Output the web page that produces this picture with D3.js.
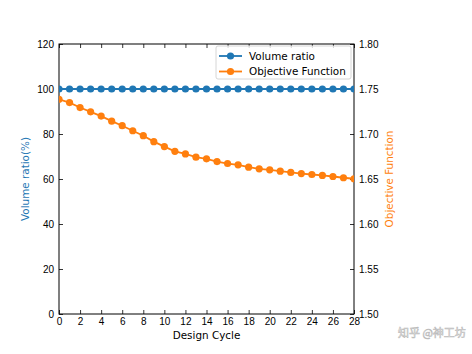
<!DOCTYPE html>
<html>
<head>
<meta charset="utf-8">
<script src="https://cdn.jsdelivr.net/npm/d3@7"></script>
<style>
  body { margin: 0; background: #fff; }
  svg { font-family: "DejaVu Sans", sans-serif; }
  .tick text { font-size: 10px; fill: #000; }
</style>
</head>
<body>
<svg id="chart" width="472" height="354"></svg>
<script>
// values
const cycles = d3.range(0, 29)
const volumeRatio = [100, 100, 100, 100, 100, 100, 100, 100, 100, 100,
    100, 100, 100, 100, 100, 100, 100, 100, 100, 100,
    100, 100, 100, 100, 100, 100, 100, 100, 100]
const objective = [1.7386, 1.7349, 1.7294, 1.7246, 1.7199, 1.7143, 1.7092, 1.7036, 1.6981, 1.6915,
    1.6860, 1.6808, 1.6779, 1.6742, 1.6724, 1.6694, 1.6672, 1.6658, 1.6631, 1.6613,
    1.6602, 1.6587, 1.6573, 1.6560, 1.6550, 1.6540, 1.6528, 1.6514, 1.6503]
const xTicks = d3.range(0, 29, 2)
const leftTicks = [0, 20, 40, 60, 80, 100, 120]
const rightTicks = [1.50, 1.55, 1.60, 1.65, 1.70, 1.75, 1.80]

const blue = '#1f77b4'
const orange = '#ff7f0e'

const margin = { top: 44, right: 118, bottom: 40, left: 59 }
const width = 472 - margin.left - margin.right
const height = 354 - margin.top - margin.bottom

const svg = d3.select('#chart')
const g = svg.append('g')
    .attr('transform', 'translate(' + margin.left + ',' + margin.top + ')')

const x = d3.scaleLinear().domain([0, 28]).range([0, width])
const yLeft = d3.scaleLinear().domain([0, 120]).range([height, 0])
const yRight = d3.scaleLinear().domain([1.5, 1.8]).range([height, 0])

svg.append('defs').append('clipPath').attr('id', 'plotClip')
    .append('rect').attr('width', width).attr('height', height)

// axes, ticks pointing inward on all four sides
function styleAxis(sel) {
    sel.select('.domain').remove()
    sel.selectAll('.tick line').attr('stroke', '#000').attr('stroke-width', 0.8)
}
g.append('g').attr('transform', 'translate(0,' + height + ')')
    .call(d3.axisBottom(x).tickValues(xTicks).tickSizeInner(-4).tickPadding(4))
    .call(styleAxis)
g.append('g')
    .call(d3.axisTop(x).tickValues(xTicks).tickSizeInner(-4).tickFormat(''))
    .call(styleAxis)
g.append('g')
    .call(d3.axisLeft(yLeft).tickValues(leftTicks).tickSizeInner(-4).tickPadding(5))
    .call(styleAxis)
g.append('g').attr('transform', 'translate(' + width + ',0)')
    .call(d3.axisRight(yRight).tickValues(rightTicks).tickSizeInner(-4).tickPadding(5)
        .tickFormat(d3.format('.2f')))
    .call(styleAxis)

// frame
g.append('rect')
    .attr('width', width).attr('height', height)
    .attr('fill', 'none').attr('stroke', '#000').attr('stroke-width', 1)

// series, clipped to the axes like matplotlib
const plot = g.append('g').attr('clip-path', 'url(#plotClip)')
function drawSeries(values, yScale, color) {
    const line = d3.line()
        .x((d, i) => x(cycles[i]))
        .y(d => yScale(d))
    plot.append('path')
        .datum(values)
        .attr('d', line)
        .attr('fill', 'none')
        .attr('stroke', color)
        .attr('stroke-width', 1.8)
    plot.selectAll(null)
        .data(values)
        .enter().append('circle')
        .attr('cx', (d, i) => x(cycles[i]))
        .attr('cy', d => yScale(d))
        .attr('r', 3.6)
        .attr('fill', color)
}
drawSeries(volumeRatio, yLeft, blue)
drawSeries(objective, yRight, orange)

// axis labels
svg.append('text')
    .attr('x', margin.left + width / 2).attr('y', 339)
    .attr('text-anchor', 'middle').style('font-size', '10.4px')
    .text('Design Cycle')
svg.append('text')
    .attr('transform', 'translate(29,' + (margin.top + height / 2) + ') rotate(-90)')
    .attr('text-anchor', 'middle').style('font-size', '10.4px')
    .attr('fill', blue)
    .text('Volume ratio(%)')
svg.append('text')
    .attr('transform', 'translate(393,' + (margin.top + height / 2) + ') rotate(-90)')
    .attr('text-anchor', 'middle').style('font-size', '10.4px')
    .attr('fill', orange)
    .text('Objective Function')

// legend
const legend = svg.append('g').attr('transform', 'translate(216,46)')
legend.append('rect')
    .attr('width', 135).attr('height', 33).attr('rx', 2)
    .attr('fill', '#fff').attr('fill-opacity', 0.8)
    .attr('stroke', '#ccc').attr('stroke-width', 0.8)
const entries = [['Volume ratio', blue], ['Objective Function', orange]]
entries.forEach((e, i) => {
    const row = legend.append('g').attr('transform', 'translate(0,' + (10 + i * 15.5) + ')')
    row.append('line').attr('x1', 3).attr('x2', 26)
        .attr('stroke', e[1]).attr('stroke-width', 1.8)
    row.append('circle').attr('cx', 14.5).attr('r', 3.6).attr('fill', e[1])
    row.append('text').attr('x', 33).attr('y', 3.7)
        .style('font-size', '10.4px').text(e[0])
})

// watermark
svg.append('text')
    .attr('x', 398).attr('y', 337)
    .style('font-family', '"Noto Sans CJK SC", sans-serif')
    .style('font-size', '11px')
    .attr('fill', '#fff').attr('stroke', '#bbb').attr('stroke-width', 0.6)
    .text('知乎 @神工坊')
</script>
</body>
</html>
